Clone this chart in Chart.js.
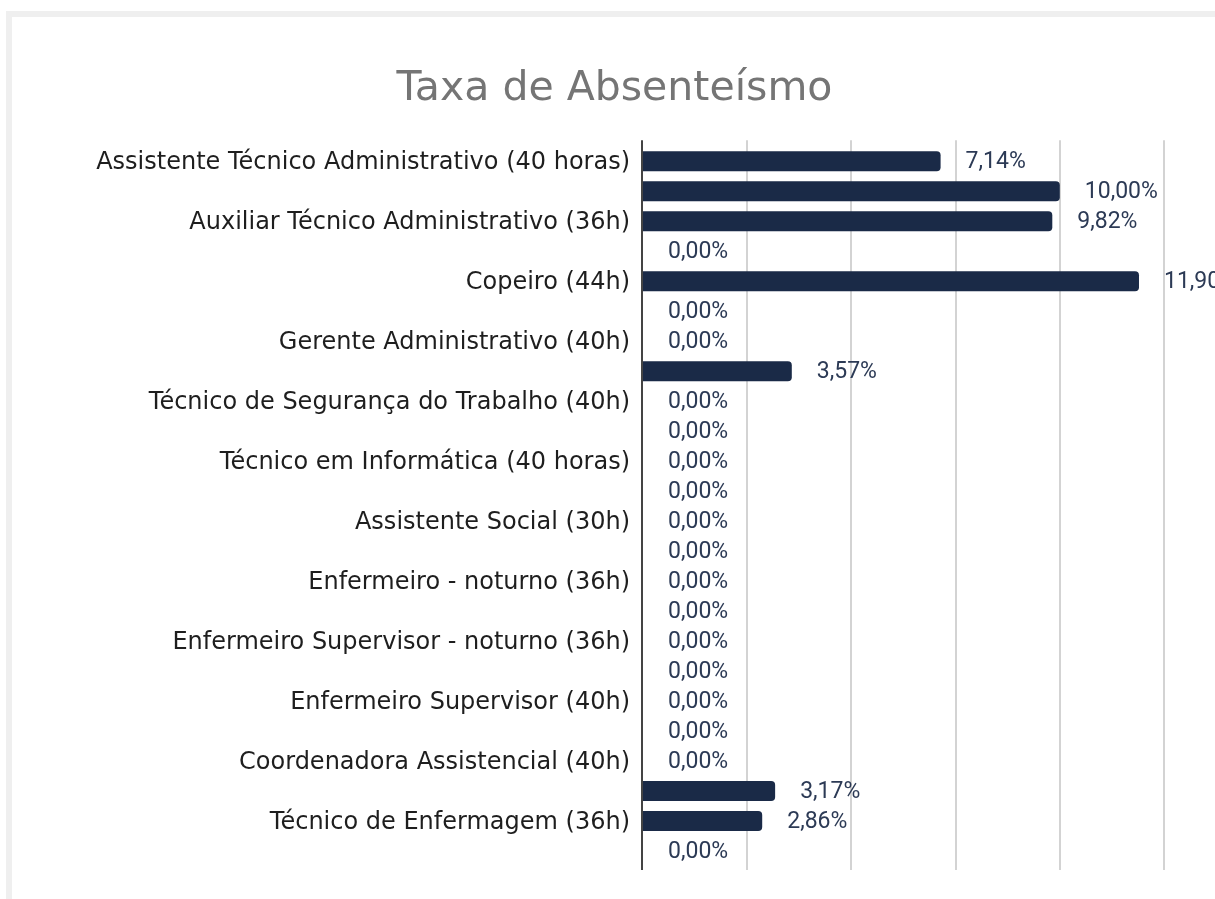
<!DOCTYPE html>
<html>
<head>
<meta charset="utf-8">
<script src="https://cdn.jsdelivr.net/npm/chart.js@4.4.1/dist/chart.umd.min.js"></script>
<style>
  html, body { margin: 0; padding: 0; background: #ffffff; overflow: hidden; width: 1215px; height: 899px; }
  #frame { position: absolute; left: 6px; top: 11px; width: 1300px; height: 1000px; background: #efefef; }
  #box { position: absolute; left: 12px; top: 17px; width: 1205px; height: 882px; background: #ffffff; }
</style>
</head>
<body>
<div id="frame"></div>
<div id="box"><canvas id="c" width="1205" height="882"></canvas></div>
<script>
const chartTitle = 'Taxa de Absenteísmo';
const categories = [
  'Assistente Técnico Administrativo (40 horas)',
  'Assistente Técnico Administrativo (36h)',
  'Auxiliar Técnico Administrativo (36h)',
  'Auxiliar de Farmácia (36h)',
  'Copeiro (44h)',
  'Farmacêutico (40h)',
  'Gerente Administrativo (40h)',
  'Recepcionista (36h)',
  'Técnico de Segurança do Trabalho (40h)',
  'Técnico de Manutenção (44h)',
  'Técnico em Informática (40 horas)',
  'Analista de RH (40h)',
  'Assistente Social (30h)',
  'Enfermeiro (36h)',
  'Enfermeiro - noturno (36h)',
  'Enfermeiro Supervisor - diurno (36h)',
  'Enfermeiro Supervisor - noturno (36h)',
  'Enfermeiro Obstetra (36h)',
  'Enfermeiro Supervisor (40h)',
  'Fisioterapeuta (30h)',
  'Coordenadora Assistencial (40h)',
  'Técnico de Enfermagem - noturno (36h)',
  'Técnico de Enfermagem (36h)',
  'Técnico de Laboratório (36h)'
];
const values = [7.14, 10.00, 9.82, 0, 11.90, 0, 0, 3.57, 0, 0, 0, 0, 0, 0, 0, 0, 0, 0, 0, 0, 0, 3.17, 2.86, 0];
const xMin = 0, xMax = 12.5, xStep = 2.5;

const BAR = '#1a2a47';
const LABEL = '#2c3a55';

const gridPlugin = {
  id: 'extGrid',
  beforeDatasetsDraw(chart) {
    const ctx = chart.ctx, xs = chart.scales.x, a = chart.chartArea;
    ctx.save();
    ctx.strokeStyle = '#d3d3d3';
    ctx.lineWidth = 2;
    xs.ticks.forEach(t => {
      if (t.value === 0) return;
      const px = Math.round(xs.getPixelForValue(t.value));
      ctx.beginPath();
      ctx.moveTo(px, a.top - 6);
      ctx.lineTo(px, a.bottom + 4);
      ctx.stroke();
    });
    ctx.restore();
  },
  afterDatasetsDraw(chart) {
    const ctx = chart.ctx, xs = chart.scales.x, a = chart.chartArea;
    ctx.save();
    ctx.strokeStyle = '#444444';
    ctx.lineWidth = 2;
    const px = Math.round(xs.getPixelForValue(0)) - 1;
    ctx.beginPath();
    ctx.moveTo(px, a.top - 6);
    ctx.lineTo(px, a.bottom + 4);
    ctx.stroke();
    // value labels
    const meta = chart.getDatasetMeta(0);
    ctx.font = '23px Roboto';
    ctx.fillStyle = LABEL;
    ctx.textAlign = 'left';
    ctx.textBaseline = 'middle';
    meta.data.forEach((bar, i) => {
      const v = chart.data.datasets[0].data[i];
      const txt = v.toFixed(2).replace('.', ',') + '%';
      ctx.fillText(txt, bar.x + 25, bar.y + 1);
    });
    ctx.restore();
  }
};

new Chart(document.getElementById('c'), {
  type: 'bar',
  data: {
    labels: categories,
    datasets: [{
      data: values,
      backgroundColor: BAR,
      borderRadius: 4,
      barPercentage: 0.667,
      categoryPercentage: 1.0
    }]
  },
  options: {
    indexAxis: 'y',
    responsive: false,
    animation: false,
    events: [],
    layout: { padding: { left: 0, right: 0, top: 0, bottom: 33 } },
    plugins: {
      legend: { display: false },
      tooltip: { enabled: false },
      title: {
        display: true,
        text: chartTitle,
        color: '#757575',
        font: { family: 'DejaVu Sans', size: 41, weight: 'normal' },
        padding: { top: 48, bottom: 32 }
      }
    },
    scales: {
      x: {
        min: xMin, max: xMax,
        ticks: { display: false, stepSize: xStep },
        grid: { display: false, drawTicks: false },
        border: { display: false }
      },
      y: {
        afterFit(scale) { scale.width = 631; },
        ticks: {
          autoSkip: false,
          padding: 13,
          labelOffset: 2,
          color: '#1e1e1e',
          font: { family: 'DejaVu Sans', size: 24 },
          callback(value, index) { return index % 2 === 0 ? this.getLabelForValue(value) : ''; }
        },
        grid: { display: false, drawTicks: false },
        border: { display: false }
      },
      yRight: {
        type: 'category',
        position: 'right',
        afterFit(scale) { scale.width = 53; },
        ticks: { display: false },
        grid: { display: false, drawTicks: false },
        border: { display: false }
      }
    }
  },
  plugins: [gridPlugin]
});
</script>
</body>
</html>
